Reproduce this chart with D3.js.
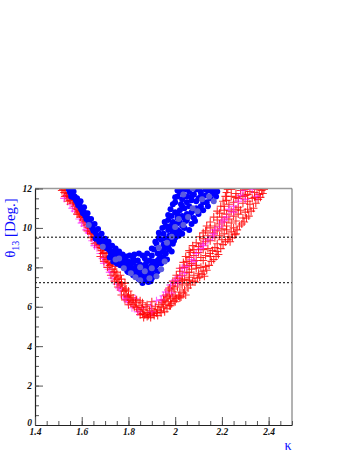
<!DOCTYPE html>
<html><head><meta charset="utf-8">
<script src="https://cdn.jsdelivr.net/npm/d3@7"></script>
<style>body{margin:0;background:#fff}svg{display:block}</style>
</head><body>
<svg id="c" width="354" height="458"></svg>
<script>
const xDomain = [1.4, 2.5];
const yDomain = [0, 12];
const xTickLabels = [1.4, 1.6, 1.8, 2.0, 2.2, 2.4];
const yTickLabels = [0, 2, 4, 6, 8, 10, 12];
const refLines = [9.53, 7.22];

const bluePts = [
[1.545,11.95],[1.55,11.8],[1.555,11.9],[1.56,11.7],[1.565,11.55],[1.57,11.6],[1.575,11.4],[1.58,11.3],[1.585,11.15],[1.59,11.2],[1.595,11.0],[1.60,10.9],
[1.605,10.75],[1.61,10.8],[1.615,10.6],[1.62,10.45],[1.625,10.5],[1.63,10.3],[1.635,10.2],[1.64,10.1],[1.645,10.0],[1.65,9.85],[1.655,9.9],[1.66,9.75],
[1.665,9.6],[1.67,9.5],[1.675,9.55],[1.68,9.35],[1.685,9.4],[1.69,9.2],[1.695,9.25],[1.70,9.1],[1.705,9.0],[1.71,8.95],[1.715,9.05],[1.72,8.85],[1.66,9.45],[1.675,9.3],
[1.725,8.7],[1.73,8.8],[1.735,8.6],[1.74,8.55],[1.745,8.7],[1.75,8.45],[1.755,8.5],[1.76,8.35],[1.765,8.6],[1.77,8.3],[1.775,8.4],[1.78,8.2],[1.72,8.5],[1.735,8.3],[1.75,8.2],[1.765,8.1],[1.785,8.45],[1.79,8.15],
[1.795,8.0],[1.80,8.3],[1.805,7.9],[1.81,8.1],[1.815,7.85],[1.82,8.25],[1.825,7.95],[1.83,7.7],[1.835,8.05],[1.84,7.8],[1.845,7.6],[1.85,8.15],[1.855,7.75],[1.86,7.55],[1.865,7.9],[1.87,7.65],[1.875,8.2],[1.88,7.5],[1.885,7.8],[1.89,7.6],[1.895,8.0],[1.90,7.7],[1.905,8.3],[1.91,7.9],[1.915,7.6],[1.92,8.1],[1.925,7.8],[1.93,8.4],[1.86,7.2],[1.875,7.35],[1.80,7.75],[1.82,8.45],[1.84,8.35],[1.87,8.45],[1.89,8.35],
[1.935,8.6],[1.94,8.2],[1.945,8.8],[1.95,8.5],[1.955,9.0],[1.96,8.7],[1.965,8.4],[1.97,9.1],[1.975,8.9],[1.98,9.3],[1.985,8.8],[1.99,9.2],[1.90,8.6],[1.91,8.9],[1.92,9.2],[1.925,8.7],
[1.93,9.5],[1.94,9.4],[1.95,9.7],[1.96,9.45],[1.97,9.9],[1.975,9.6],[1.98,10.1],[1.99,9.8],[2.0,9.5],[2.005,10.2],[2.01,9.9],[2.02,10.3],[2.03,9.7],[2.04,10.0],[2.05,10.4],[2.06,9.9],[2.07,10.2],[1.995,9.35],[2.015,9.6],[1.95,9.15],
[1.96,10.1],[1.97,10.4],[1.985,10.6],[1.99,10.3],[2.0,10.8],[2.01,10.5],[2.02,10.9],[2.03,10.6],[2.04,11.0],[2.05,10.7],[2.06,11.1],[2.07,10.8],[2.08,10.5],[2.09,11.0],[2.10,10.7],[2.11,11.1],[2.12,10.9],[2.025,11.2],[2.045,10.35],[2.085,10.35],
[2.0,11.3],[2.01,11.6],[2.02,11.8],[2.03,11.45],[2.04,11.95],[2.05,11.6],[2.06,11.85],[2.07,11.4],[2.08,11.7],[2.09,11.95],[2.10,11.5],[2.11,11.8],[2.12,11.3],[2.13,11.65],[2.14,11.9],[2.15,11.5],[2.16,11.75],[2.17,11.95],[2.055,12.0],[2.105,12.0],[2.135,11.3],
[1.555,11.6],[1.565,11.85],[1.58,11.5],[1.595,11.35],[1.61,11.05],[1.625,10.75],[1.64,10.45],[1.655,10.2],[1.67,9.95],[1.685,9.7],[1.70,9.45],[1.715,9.3],[1.73,9.1],[1.745,8.95],[1.76,8.8],[1.775,8.65],[1.79,8.55],[1.805,8.6],[1.825,8.65],[1.845,8.7],[1.86,8.6],[1.88,8.7],[1.90,8.95],[1.915,9.3],[1.93,9.75],[1.945,10.0],[1.955,10.3],[1.97,10.65],[1.98,10.95],[1.99,11.2],[2.0,11.55],[2.01,11.9],[2.02,12.0],
[1.99,10.0],[2.01,10.7],[2.03,11.1],[2.05,11.3],[2.07,11.6],[2.09,11.35],[2.11,11.6],[2.13,11.95],[2.155,11.9],[2.175,11.6],[2.18,11.85],[2.14,11.1],[2.10,10.95],[2.08,10.9],[2.06,10.6],[2.04,10.5],[2.03,10.1],[2.02,9.8],[2.0,9.7],[1.98,9.5],[1.965,9.0],[1.95,8.85],[1.94,8.45],[1.925,8.35],[1.91,8.25],[1.9,8.1],[1.88,7.95],[1.86,8.05],[1.845,7.95],[1.82,7.6],[1.795,7.8],[1.78,8.05],[1.845,7.4],[1.865,7.4],[1.885,7.25],[1.9,7.45],[1.91,7.55],[1.895,7.3],[1.855,7.5]
];
const blueLightPts = [
[1.63,10.15],[1.69,9.05],[1.745,8.4],[1.78,7.95],[1.81,7.7],[1.83,7.5],[1.85,7.35],[1.87,7.8],[1.89,7.45],[1.9,7.95],[1.92,7.55],[1.94,7.9],[1.955,8.3],
[1.965,9.25],[1.985,9.55],[2.0,10.05],[2.015,10.45],[2.035,10.15],[2.055,10.55],[2.075,11.0],[2.095,10.85],[2.115,11.45],[2.145,11.6],[2.165,11.35],[2.035,11.7],[2.075,12.0],[1.93,9.0],[1.85,8.0],[1.76,8.45]
];
const redPts = [
[1.52,11.95],[1.525,11.8],[1.53,11.9],[1.535,11.65],[1.54,11.75],[1.545,11.5],[1.55,11.4],[1.555,11.55],[1.56,11.25],[1.565,11.3],[1.57,11.1],[1.575,11.0],[1.58,10.95],
[1.585,10.8],[1.59,10.7],[1.595,10.55],[1.60,10.6],[1.605,10.4],[1.61,10.3],[1.615,10.35],[1.62,10.15],[1.625,10.05],[1.63,10.0],[1.60,10.85],[1.615,10.55],
[1.635,9.85],[1.64,9.7],[1.645,9.75],[1.65,9.55],[1.655,9.4],[1.66,9.45],[1.665,9.25],[1.67,9.1],[1.675,9.15],[1.68,9.0],[1.64,9.5],[1.655,9.2],
[1.685,8.85],[1.69,8.7],[1.695,8.75],[1.70,8.5],[1.705,8.4],[1.71,8.45],[1.715,8.25],[1.72,8.1],[1.725,8.15],[1.68,8.55],[1.695,8.3],[1.71,8.0],
[1.73,7.9],[1.735,7.75],[1.74,7.8],[1.745,7.55],[1.75,7.4],[1.755,7.5],[1.76,7.25],[1.765,7.1],[1.77,7.2],[1.775,6.95],[1.725,7.6],[1.74,7.3],[1.755,7.0],
[1.78,6.8],[1.785,6.85],[1.79,6.6],[1.795,6.5],[1.80,6.55],[1.805,6.35],[1.81,6.2],[1.815,6.3],[1.82,6.1],[1.825,6.0],[1.77,6.6],[1.785,6.35],[1.80,6.1],[1.83,6.2],[1.835,5.95],
[1.84,5.85],[1.845,6.05],[1.85,5.75],[1.855,5.95],[1.86,5.65],[1.865,5.85],[1.87,5.6],[1.875,6.0],[1.88,5.7],[1.885,5.55],[1.89,5.8],[1.895,5.6],[1.90,5.9],[1.905,5.65],[1.91,5.75],[1.915,6.0],[1.92,5.7],[1.925,5.85],[1.93,6.1],[1.935,5.8],[1.94,6.0],[1.945,6.2],[1.95,5.95],[1.86,6.2],[1.88,6.1],[1.90,6.25],
[1.955,6.3],[1.96,6.1],[1.965,6.5],[1.97,6.25],[1.975,6.6],[1.98,6.4],[1.985,6.8],[1.99,6.5],[1.995,6.9],[2.0,6.6],[2.01,7.0],[2.02,6.75],[2.03,7.1],[2.04,6.85],[1.97,6.85],[1.99,7.05],[2.05,7.2],
[2.0,7.2],[2.01,7.45],[2.02,7.3],[2.03,7.6],[2.04,7.4],[2.05,7.75],[2.06,7.5],[2.07,7.9],[2.08,7.6],[2.09,7.95],[2.10,7.7],[2.11,8.0],[2.12,7.8],[2.02,7.8],[2.04,8.0],[2.06,8.1],[2.13,8.05],
[2.05,8.3],[2.06,8.5],[2.07,8.2],[2.08,8.6],[2.09,8.35],[2.10,8.75],[2.11,8.5],[2.12,8.9],[2.13,8.6],[2.14,8.95],[2.15,8.7],[2.16,8.85],[2.17,9.0],[2.08,8.9],[2.10,9.05],[2.18,8.8],[2.065,8.75],
[2.11,9.2],[2.12,9.45],[2.13,9.3],[2.14,9.6],[2.15,9.35],[2.16,9.75],[2.17,9.5],[2.18,9.85],[2.19,9.6],[2.20,9.95],[2.21,9.7],[2.22,9.9],[2.23,9.55],[2.24,9.8],[2.25,10.0],[2.13,9.85],[2.15,10.0],[2.26,9.7],
[2.17,10.1],[2.18,10.4],[2.19,10.2],[2.20,10.55],[2.21,10.3],[2.22,10.7],[2.23,10.45],[2.24,10.85],[2.25,10.6],[2.26,10.95],[2.27,10.7],[2.28,10.9],[2.29,10.5],[2.30,10.8],[2.19,10.75],[2.21,10.9],[2.31,10.95],
[2.21,11.1],[2.22,11.4],[2.23,11.2],[2.24,11.6],[2.25,11.3],[2.26,11.75],[2.27,11.5],[2.28,11.9],[2.29,11.6],[2.30,11.95],[2.31,11.7],[2.32,11.85],[2.33,11.5],[2.34,11.8],[2.35,11.95],[2.36,11.7],[2.24,11.95],[2.22,11.8],[2.37,11.9],[2.32,11.2],
[1.515,11.9],[1.528,11.6],[1.54,11.35],[1.55,11.6],[1.565,11.45],[1.575,11.2],[1.58,10.7],[1.59,10.9],[1.605,10.7],[1.62,10.45],[1.625,9.85],[1.635,10.25],[1.645,9.95],[1.66,9.7],[1.665,9.5],[1.675,9.35],[1.69,8.95],[1.70,9.05],[1.705,8.7],[1.72,8.55],[1.73,8.2],[1.745,8.05],[1.75,7.75],[1.765,7.6],[1.77,7.4],[1.785,7.2],[1.79,6.9],[1.80,6.8],[1.81,6.6],[1.82,6.45],[1.835,6.35],[1.85,6.3],
[1.85,5.6],[1.865,5.45],[1.88,5.5],[1.895,5.45],[1.91,5.55],[1.925,5.55],[1.94,5.7],[1.955,5.75],[1.965,5.9],[1.975,6.05],[1.985,6.15],[1.995,6.3],[2.005,6.4],[2.015,6.55],[2.025,6.5],[2.035,6.7],[2.045,6.6],[2.055,6.95],[2.065,7.1],[2.075,7.3],[2.085,7.25],[2.095,7.45],[2.105,7.5],[2.115,7.65],[2.125,7.55],[2.135,7.85],[2.145,8.1],[2.155,8.3],[2.165,8.4],[2.175,8.55],[2.185,8.65],[2.195,8.95],[2.205,9.15],[2.215,9.3],[2.225,9.4],[2.235,9.3],[2.245,9.5],[2.255,9.65],[2.265,9.9],[2.275,10.1],[2.285,10.2],[2.295,10.3],[2.305,10.5],[2.315,10.6],[2.325,10.85],[2.335,11.0],[2.345,11.25],[2.355,11.45],[2.365,11.55],[2.375,11.75],[2.38,11.95],
[1.95,6.35],[1.96,6.6],[1.975,6.95],[1.99,7.3],[2.005,7.6],[2.02,7.95],[2.035,8.25],[2.045,8.55],[2.06,8.85],[2.075,9.1],[2.09,9.25],[2.105,9.55],[2.12,9.75],[2.135,10.1],[2.15,10.3],[2.165,10.55],[2.18,10.85],[2.195,11.1],[2.205,11.35],[2.215,11.6],[2.225,11.95],
[2.03,7.35],[2.06,7.75],[2.09,8.1],[2.12,8.35],[2.15,8.55],[2.18,9.2],[2.2,9.4],[2.22,10.1],[2.24,10.25],[2.26,10.35],[2.27,11.05],[2.29,11.25],[2.31,11.35],[2.26,11.55],[2.34,11.55],[2.3,11.65],[1.98,6.05],[2.0,6.25],[2.02,6.45],[2.06,7.35]
];
const magentaPts = [
[1.535,11.6],[1.55,11.2],[1.57,10.85],[1.59,10.45],[1.61,10.1],[1.63,9.75],[1.645,9.35],[1.665,9.0],[1.68,8.7],[1.695,8.2],[1.715,7.9],[1.73,7.45],[1.75,7.15],[1.765,6.85],[1.78,6.5],[1.795,6.25],[1.815,5.95],[1.83,6.4],[1.86,5.95],[1.895,6.05],[1.92,6.3],[1.95,6.55],[1.96,6.75],[1.98,7.1],[2.0,7.35],[2.02,7.55],[2.03,7.95],[2.05,8.05],[2.07,8.4],[2.09,8.7],[2.11,8.95],[2.12,9.2],[2.14,9.4],[2.16,9.55],[2.17,9.9],[2.19,10.05],[2.2,10.3],[2.22,10.55],[2.23,10.95],[2.25,11.1],[2.27,11.35],[2.28,11.65],[2.30,11.45],[2.33,11.95],
[1.525,11.5],[1.56,11.0],[1.60,10.25],[1.62,9.9],[1.655,9.1],[1.69,8.45],[1.72,7.75],[1.76,6.95],[1.79,6.4],[1.84,5.75],[1.90,5.75],[1.94,6.35],[1.985,6.7],[2.01,7.2],[2.04,7.7],[2.08,8.3],[2.12,9.1],[2.165,9.7],[2.21,10.4],[2.25,10.8],[2.29,11.9],[2.35,11.6]
];

const svg = d3.select("#c");
const L = 35, R = 292, T = 188.5, B = 425;
const x = d3.scaleLinear().domain(xDomain).range([L, R]);
const y = d3.scaleLinear().domain(yDomain).range([B, T]);

svg.append("defs").append("clipPath").attr("id","clip")
  .append("rect").attr("x",L).attr("y",T).attr("width",R-L).attr("height",B-T);

const plot = svg.append("g").attr("clip-path","url(#clip)");

function crosses(data, color, op) {
  const g = plot.append("g").attr("stroke", color).attr("stroke-opacity", op).attr("stroke-width", 1.1).attr("fill","none");
  g.selectAll("path").data(data).enter().append("path")
    .attr("d", d => { const cx = x(d[0]), cy = y(d[1]), s = 4;
      return `M${cx-s},${cy}H${cx+s}M${cx},${cy-s}V${cy+s}`; });
}
crosses(magentaPts, "#ff00ff", 0.6);
crosses(redPts, "#ff0000", 0.82);
crosses(magentaPts.slice(22), "#ff33ff", 0.45);

plot.append("g").selectAll("circle").data(bluePts).enter().append("circle")
  .attr("cx", d => x(d[0])).attr("cy", d => y(d[1])).attr("r", 3).attr("fill", "#0000ff");
plot.append("g").selectAll("circle").data(blueLightPts).enter().append("circle")
  .attr("cx", d => x(d[0])).attr("cy", d => y(d[1])).attr("r", 3).attr("fill", "#5a5ae0");

svg.append("g").selectAll("line").data(refLines).enter().append("line")
  .attr("x1", L).attr("x2", R).attr("y1", d => y(d)).attr("y2", d => y(d))
  .attr("stroke", "#000").attr("stroke-width", 1).attr("stroke-dasharray", "2,2");

svg.append("line").attr("x1",L).attr("x2",R).attr("y1",T).attr("y2",T).attr("stroke","#9a9a9a").attr("stroke-width",1.5);
svg.append("line").attr("x1",R).attr("x2",R).attr("y1",T).attr("y2",B).attr("stroke","#666").attr("stroke-width",1);

const fontFam = "'Liberation Serif','DejaVu Serif',serif";
const yMinor = d3.range(0, 12.01, 0.5);
const xMinor = d3.range(1.4, 2.501, 0.05);
svg.append("g").attr("transform",`translate(${L},0)`)
  .call(d3.axisLeft(y).tickValues(yMinor).tickSize(-4).tickSizeOuter(0).tickFormat(""))
  .call(g => g.select(".domain").remove())
  .call(g => g.selectAll("line").attr("stroke","#555"));
svg.append("g").attr("transform",`translate(0,${B})`)
  .call(d3.axisBottom(x).tickValues(xMinor).tickSize(-4).tickSizeOuter(0).tickFormat(""))
  .call(g => g.select(".domain").remove())
  .call(g => g.selectAll("line").attr("stroke","#555"));

const yAx = svg.append("g").attr("transform",`translate(${L},0)`)
  .call(d3.axisLeft(y).tickValues(yTickLabels).tickSize(-8).tickSizeOuter(0).tickPadding(3).tickFormat(d3.format("d")));
const xAx = svg.append("g").attr("transform",`translate(0,${B})`)
  .call(d3.axisBottom(x).tickValues(xTickLabels).tickSize(-8).tickSizeOuter(0).tickPadding(3).tickFormat(d => d === 2 ? "2" : d3.format(".1f")(d)));
[yAx, xAx].forEach(a => {
  a.select(".domain").attr("stroke","#222").attr("stroke-width",1.2);
  a.selectAll(".tick line").attr("stroke","#555");
  a.selectAll("text").attr("font-family", fontFam).attr("font-style","italic").attr("font-weight","bold")
    .attr("font-size", 9.5).attr("fill","#111");
});
yAx.selectAll(".tick text").filter(d => d === 0).attr("dy", "0.1em");

const yt = svg.append("text").attr("transform","translate(15,228) rotate(-90)")
  .attr("text-anchor","middle").attr("font-family",fontFam).attr("font-size",15).attr("fill","#0a0aff");
yt.append("tspan").text("θ");
yt.append("tspan").attr("font-size",10).attr("dy",4).text("13");
yt.append("tspan").attr("dy",-4).text(" [Deg.]");

svg.append("text").attr("x",288).attr("y",450).attr("text-anchor","middle")
  .attr("font-family",fontFam).attr("font-size",14).attr("fill","#0a0aff").text("κ");
</script>
</body></html>
